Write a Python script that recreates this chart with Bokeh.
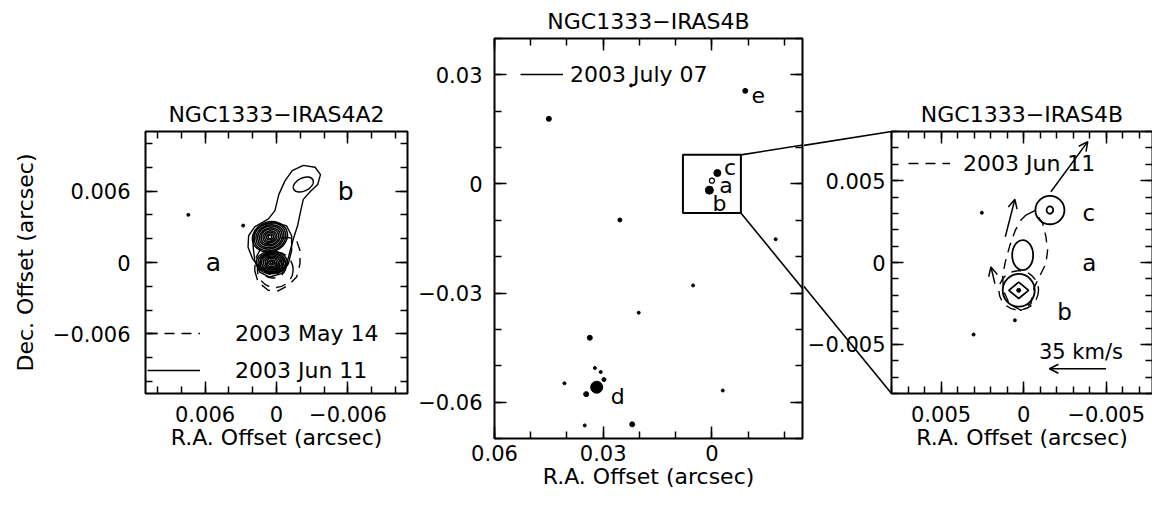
import numpy as np
from bokeh.plotting import figure
from bokeh.layouts import row, column
from bokeh.models import (Range1d, LinearAxis, SingleIntervalTicker, Legend, LegendItem,
                          Arrow, OpenHead, ColumnDataSource)
from bokeh.core.properties import value
from bokeh.embed import file_html
from bokeh.resources import INLINE

FONT = "DejaVu Sans"

# ---------------- Panel 1 : NGC1333-IRAS4A2 ----------------
A2_TITLE = "NGC1333−IRAS4A2"
A2_TICKS = [0.006, 0.0, -0.006]
A2_TICK_LABELS = ["0.006", "0", "−0.006"]
A2_DATES = ["2003 May 14", "2003 Jun 11"]
# outer 2003 Jun 11 contour (arcsec)
A2_JUN_OUTER_X = [0.00239, 0.00234, 0.00183, 0.00070, 0.00014, -0.00020, -0.00070, -0.00132,
                  -0.00225, -0.00324, -0.00369, -0.00346, -0.00282, -0.00225, -0.00200, -0.00177,
                  -0.00141, -0.00110, -0.00080, -0.00020, 0.00060, 0.00140, 0.00200, 0.00239]
A2_JUN_OUTER_Y = [0.00128, 0.00225, 0.00300, 0.00364, 0.00433, 0.00572, 0.00683, 0.00772,
                  0.00816, 0.00800, 0.00738, 0.00655, 0.00594, 0.00530, 0.00419, 0.00308,
                  0.00197, 0.00080, -0.00030, -0.00080, -0.00085, -0.00050, 0.00030, 0.00128]
A2_JUN_SECOND_X = [0.00183, 0.00113, 0.00014, -0.00085, -0.00127, -0.00127, -0.00099, -0.00042,
                   0.00057, 0.00141, 0.00183, 0.00197, 0.00183]
A2_JUN_SECOND_Y = [0.00267, 0.00317, 0.00336, 0.00308, 0.00225, 0.00100, -0.00011, -0.00094,
                   -0.00122, -0.00081, 0.00017, 0.00142, 0.00267]
# nested contour rings: peak A (upper), peak B (lower), and the inner loop of lobe b
A2_PEAK_A = dict(x=0.00055, y=0.00215, angle=0.35,
                 w=[0.0030, 0.0027, 0.0024, 0.0021, 0.0018, 0.0015, 0.0012, 0.0009, 0.0006, 0.0003],
                 h=[0.0025, 0.0023, 0.0020, 0.0018, 0.0015, 0.0013, 0.0010, 0.0008, 0.0005, 0.0003])
A2_PEAK_B = dict(x=0.0004, y=0.0000, angle=0.0,
                 w=[0.0026, 0.0023, 0.0020, 0.0017, 0.0014, 0.0011, 0.0008, 0.0005, 0.0002],
                 h=[0.0019, 0.0017, 0.0015, 0.0013, 0.0011, 0.0009, 0.0007, 0.0004, 0.0002])
A2_LOBE_B = dict(x=-0.00225, y=0.00655, angle=0.45, w=[0.0018], h=[0.0011])
# 2003 May 14 (dashed) contours
A2_MAY_OUTER_X = [0.00183, 0.00155, 0.00070, -0.00014, -0.00099, -0.00169, -0.00197, -0.00197,
                  -0.00169, -0.00099, 0.00014, 0.00127, 0.00177, 0.00183]
A2_MAY_OUTER_Y = [-0.00067, -0.00164, -0.00233, -0.00239, -0.00192, -0.00122, -0.00011, 0.00100,
                  0.00183, 0.00211, 0.00197, 0.00128, 0.00031, -0.00067]
A2_MAY_ELL_X = [0.0001, 0.0003, 0.0003, 0.0003, 0.0003]
A2_MAY_ELL_Y = [-0.0006, -0.0003, -0.0003, -0.0003, -0.0003]
A2_MAY_ELL_W = [0.0030, 0.0022, 0.0016, 0.0011, 0.0007]
A2_MAY_ELL_H = [0.0030, 0.0020, 0.0015, 0.0010, 0.0006]
A2_DOT_X = [0.0074, 0.0028]
A2_DOT_Y = [0.0040, 0.0031]
A2_LABELS = ["a", "b"]
A2_LABEL_X = [0.0053, -0.0058]
A2_LABEL_Y = [0.0, 0.0060]

# ---------------- Panel 2 : NGC1333-IRAS4B wide field ----------------
B_TITLE = "NGC1333−IRAS4B"
B_TICKS = [0.06, 0.03, 0.0, -0.03, -0.06]
B_TICK_LABELS = ["0.06", "0.03", "0", "−0.03", "−0.06"]
B_DATE = "2003 July 07"
B_NOISE_X = [0.0450, 0.0223, 0.0254, -0.0176, 0.0052, 0.0202, 0.0337, 0.0407, 0.0323, 0.0307,
             0.0298, 0.0347, -0.0030, 0.0351, 0.0220]
B_NOISE_Y = [0.0179, 0.0271, -0.0099, -0.0152, -0.0279, -0.0354, -0.0423, -0.0548, -0.0506,
             -0.0517, -0.0538, -0.0578, -0.0568, -0.0664, -0.0661]
B_NOISE_SIZE = [5, 3, 4, 3, 3, 3, 5, 3, 3, 3, 4, 5, 3, 3, 5]
B_SRC_NAMES = ["b", "c", "d", "e"]
B_SRC_X = [0.0007, -0.0015, 0.0318, -0.0092]
B_SRC_Y = [-0.0017, 0.0030, -0.0559, 0.0256]
B_SRC_SIZE = [8, 7, 12, 5]
B_SRC_A_X = [0.0]
B_SRC_A_Y = [0.0009]
B_LABELS = ["a", "b", "c", "d", "e"]
B_LABEL_X = [-0.0039, -0.0021, -0.0050, 0.0260, -0.0128]
B_LABEL_Y = [-0.0005, -0.0053, 0.0046, -0.0584, 0.0244]
ZOOM_BOX = dict(left=0.008, right=-0.008, bottom=-0.008, top=0.008)

# ---------------- Panel 3 : NGC1333-IRAS4B zoom ----------------
Z_TICKS = [0.005, 0.0, -0.005]
Z_TICK_LABELS = ["0.005", "0", "−0.005"]
Z_DATE = "2003 Jun 11"
Z_SOLID_X = [-0.00159, -0.00159, 0.00006, 0.00030]
Z_SOLID_Y = [0.00320, 0.00320, 0.00045, -0.00170]
Z_SOLID_W = [0.00176, 0.00040, 0.00127, 0.00194]
Z_SOLID_H = [0.00173, 0.00045, 0.00184, 0.00200]
Z_DIAMOND_X = [0.0009, 0.0003, -0.0003, 0.0003]
Z_DIAMOND_Y = [-0.0017, -0.0012, -0.0017, -0.0022]
Z_DASH_X = [-0.00014, -0.00065, -0.00115, -0.00135, -0.00145, -0.00135, -0.00105, -0.00065,
            -0.00044, 0.00016, 0.00087, 0.00123, 0.00127, 0.00111, 0.00083, 0.00050, 0.00016,
            -0.00014]
Z_DASH_Y = [0.00290, 0.00316, 0.00239, 0.00157, 0.00075, -0.00006, -0.00067, -0.00149,
            -0.00251, -0.00292, -0.00251, -0.00170, -0.00078, 0.00004, 0.00106, 0.00198,
            0.00259, 0.00290]
Z_DASH_ELL = dict(x=[0.00030], y=[-0.00170], w=[0.0024], h=[0.0024])
Z_VEL_X0 = [-0.00165, 0.00111, 0.00174]
Z_VEL_Y0 = [0.00432, 0.00157, -0.00129]
Z_VEL_X1 = [-0.00388, 0.00053, 0.00198]
Z_VEL_Y1 = [0.00738, 0.00386, -0.00027]
Z_SCALE_X = [-0.00499, -0.00156]
Z_SCALE_Y = [-0.00649, -0.00649]
Z_SCALE_TEXT = "35 km/s"
Z_SCALE_TEXT_XY = (-0.00347, -0.00547)
Z_DOT_X = [0.00253, 0.00053, 0.00303]
Z_DOT_Y = [0.00304, -0.00353, -0.00440]
Z_LABELS = ["c", "a", "b"]
Z_LABEL_X = [-0.00394, -0.00398, -0.00247]
Z_LABEL_Y = [0.00300, -0.00002, -0.00302]

AXIS_LABEL_X = "R.A. Offset (arcsec)"
AXIS_LABEL_Y = "Dec. Offset (arcsec)"

# ---------------- layout geometry (pixels) ----------------
PAGE = 0
G1 = dict(left=145, top=131, fw=262, fh=262, right=5, bottom=70, title_standoff=10)
G2 = dict(left=82, top=38, fw=308, fh=400, right=2, bottom=64, title_standoff=9)
G3 = dict(left=84, top=131, fw=261, fh=262, right=2, bottom=70, title_standoff=10)
R1X, R1Y = (0.011, -0.011), (-0.011, 0.011)
R2X, R2Y = (0.06, -0.025), (-0.07, 0.04)
R3X, R3Y = (0.008, -0.0078), (-0.008, 0.008)

f2_x0 = PAGE + G1["left"] + G1["fw"] + G1["right"] + G2["left"]
f2_y0 = PAGE + G2["top"]
f3_x0 = f2_x0 + G2["fw"] + G2["right"] + G3["left"]
f3_y0 = PAGE + G3["top"]


def to_page(x, y, xr, yr, x0, y0, fw, fh):
    return (x0 + (x - xr[0]) / (xr[1] - xr[0]) * fw,
            y0 + (yr[1] - y) / (yr[1] - yr[0]) * fh)


def from_page(px, py, xr, yr, x0, y0, fw, fh):
    return (xr[0] + (px - x0) / fw * (xr[1] - xr[0]),
            yr[1] - (py - y0) / fh * (yr[1] - yr[0]))


def make_fig(title, xr, yr, g):
    p = figure(title=title, x_range=Range1d(*xr), y_range=Range1d(*yr),
               frame_width=g["fw"], frame_height=g["fh"],
               min_border_left=g["left"], min_border_right=g["right"],
               min_border_top=g["top"], min_border_bottom=g["bottom"],
               toolbar_location=None, tools="", output_backend="svg", align="start")
    p.grid.visible = False
    p.outline_line_color = "black"
    p.outline_line_width = 2
    p.outline_line_alpha = 1
    p.title.text_font = FONT
    p.title.text_font_size = "22px"
    p.title.text_font_style = "normal"
    p.title.text_color = "black"
    p.title.align = "center"
    p.title.standoff = g["title_standoff"]
    p.background_fill_color = "white"
    p.border_fill_color = "white"
    return p


def style_axis(ax, interval, nminor, ticks, labels, show, standoff=12):
    ax.ticker = SingleIntervalTicker(interval=interval, num_minor_ticks=nminor)
    ax.axis_line_color = None
    ax.major_tick_in = 12
    ax.major_tick_out = 0
    ax.minor_tick_in = 7
    ax.minor_tick_out = 0
    ax.major_tick_line_width = 1.5
    ax.minor_tick_line_width = 1.5
    ax.major_tick_line_color = "black"
    ax.minor_tick_line_color = "black"
    if show:
        ax.major_label_overrides = dict(zip(ticks, labels))
        ax.major_label_text_font = FONT
        ax.major_label_text_font_size = "21px"
        ax.major_label_text_color = "black"
        ax.major_label_standoff = standoff
        ax.axis_label_text_font = FONT
        ax.axis_label_text_font_size = "22px"
        ax.axis_label_text_font_style = "normal"
        ax.axis_label_text_color = "black"
        ax.axis_label_standoff = 0
    else:
        ax.major_label_text_font_size = "0px"
        ax.major_label_text_color = None
        ax.major_label_standoff = 0


def frame_axes(p, interval, nminor, ticks, labels, xstand, ystand, xlabel, ylabel):
    style_axis(p.xaxis[0], interval, nminor, ticks, labels, True, xstand)
    style_axis(p.yaxis[0], interval, nminor, ticks, labels, True, ystand)
    p.xaxis[0].axis_label = xlabel
    p.yaxis[0].axis_label = ylabel
    top = LinearAxis()
    style_axis(top, interval, nminor, ticks, labels, False)
    p.add_layout(top, "above")
    right = LinearAxis()
    style_axis(right, interval, nminor, ticks, labels, False)
    p.add_layout(right, "right")


def legend(p, items, loc, glyph_w, standoff):
    lg = Legend(items=items, location=loc, border_line_color=None,
                background_fill_alpha=0, padding=0, margin=0, spacing=11,
                glyph_width=glyph_w, glyph_height=26, label_height=26,
                label_standoff=standoff, label_text_font=FONT,
                label_text_font_size="22px", label_text_color="black")
    p.add_layout(lg)


def rings(p, spec, **kw):
    n = len(spec["w"])
    src = ColumnDataSource(dict(x=[spec["x"]] * n, y=[spec["y"]] * n, w=spec["w"], h=spec["h"]))
    p.ellipse(x="x", y="y", width="w", height="h", angle=spec["angle"], source=src,
              fill_color=None, line_color="black", **kw)


LW = 1.4

# ---------------- figure 1 ----------------
p1 = make_fig(A2_TITLE, R1X, R1Y, G1)
frame_axes(p1, 0.006, 3, A2_TICKS, A2_TICK_LABELS, 12, 15, AXIS_LABEL_X, AXIS_LABEL_Y)
p1.yaxis[0].axis_label_standoff = 12
r_may = p1.multi_line(xs=[A2_MAY_OUTER_X], ys=[A2_MAY_OUTER_Y], line_color="black",
                      line_width=LW, line_dash="10 7")
p1.ellipse(x=A2_MAY_ELL_X, y=A2_MAY_ELL_Y, width=A2_MAY_ELL_W, height=A2_MAY_ELL_H,
           fill_color=None, line_color="black", line_width=LW, line_dash="10 7")
r_jun = p1.multi_line(xs=[A2_JUN_OUTER_X, A2_JUN_SECOND_X], ys=[A2_JUN_OUTER_Y, A2_JUN_SECOND_Y],
                      line_color="black", line_width=LW)
rings(p1, A2_PEAK_A, line_width=1.5)
rings(p1, A2_PEAK_B, line_width=1.5)
rings(p1, A2_LOBE_B, line_width=LW)
p1.scatter(A2_DOT_X, A2_DOT_Y, size=3, color="black")
p1.text(A2_LABEL_X, A2_LABEL_Y, text=A2_LABELS, text_font=value(FONT),
        text_font_size=value("25px"), text_align="center", text_baseline="middle",
        text_color="black")
legend(p1, [LegendItem(label=A2_DATES[0], renderers=[r_may]),
            LegendItem(label=A2_DATES[1], renderers=[r_jun])], (2, 10), 53, 35)

# ---------------- figure 2 ----------------
p2 = make_fig(B_TITLE, R2X, R2Y, G2)
frame_axes(p2, 0.03, 3, B_TICKS, B_TICK_LABELS, 6, 12, AXIS_LABEL_X, None)
p2.scatter(B_NOISE_X, B_NOISE_Y, size=B_NOISE_SIZE, color="black")
p2.scatter(B_SRC_X, B_SRC_Y, size=B_SRC_SIZE, color="black")
p2.scatter(B_SRC_A_X, B_SRC_A_Y, size=5, fill_color=None, line_color="black", line_width=1.2)
p2.text(B_LABEL_X, B_LABEL_Y, text=B_LABELS, text_font=value(FONT),
        text_font_size=value("22px"), text_align="center", text_baseline="middle",
        text_color="black")
p2.quad(left=[ZOOM_BOX["left"]], right=[ZOOM_BOX["right"]], bottom=[ZOOM_BOX["bottom"]],
        top=[ZOOM_BOX["top"]], fill_color=None, line_color="black", line_width=2)
r_jul = p2.line(x=[np.nan], y=[np.nan], line_color="black", line_width=LW)
legend(p2, [LegendItem(label=B_DATE, renderers=[r_jul])], (26, 351), 43, 7)

# connector lines from the zoom box to the right-hand panel
g2args = (R2X, R2Y, f2_x0, f2_y0, G2["fw"], G2["fh"])
g3args = (R3X, R3Y, f3_x0, f3_y0, G3["fw"], G3["fh"])
box_corners = [(ZOOM_BOX["right"], ZOOM_BOX["top"]), (ZOOM_BOX["right"], ZOOM_BOX["bottom"])]
frame_corners = [(R3X[0], R3Y[1]), (R3X[0], R3Y[0])]
for (bx, by), (fx, fy) in zip(box_corners, frame_corners):
    fpx, fpy = to_page(fx, fy, *g3args)
    ex2, ey2 = from_page(fpx, fpy, *g2args)
    p2.segment(x0=[bx], y0=[by], x1=[ex2], y1=[ey2], line_color="black", line_width=1.6)

# ---------------- figure 3 ----------------
p3 = make_fig(B_TITLE, R3X, R3Y, G3)
frame_axes(p3, 0.005, 5, Z_TICKS, Z_TICK_LABELS, 12, 6, AXIS_LABEL_X, None)
for (bx, by), (fx, fy) in zip(box_corners, frame_corners):
    bpx, bpy = to_page(bx, by, *g2args)
    sx3, sy3 = from_page(bpx, bpy, *g3args)
    # overlay level: continues through the left margin up to the frame corner
    p3.segment(x0=[sx3], y0=[sy3], x1=[fx], y1=[fy], line_color="black", line_width=1.6,
               level="overlay")
r_z = p3.multi_line(xs=[Z_DASH_X], ys=[Z_DASH_Y], line_color="black", line_width=LW,
                    line_dash="10 7")
p3.ellipse(x=Z_DASH_ELL["x"], y=Z_DASH_ELL["y"], width=Z_DASH_ELL["w"], height=Z_DASH_ELL["h"],
           fill_color=None, line_color="black", line_width=LW, line_dash="10 7")
p3.ellipse(x=Z_SOLID_X, y=Z_SOLID_Y, width=Z_SOLID_W, height=Z_SOLID_H,
           fill_color=None, line_color="black", line_width=LW + 0.4)
p3.patch(Z_DIAMOND_X, Z_DIAMOND_Y, fill_color=None, line_color="black", line_width=LW + 0.4)
p3.scatter([Z_SOLID_X[3]], [Z_SOLID_Y[3]], size=4, color="black")
p3.scatter(Z_DOT_X, Z_DOT_Y, size=3, color="black")
vel = ColumnDataSource(dict(x0=Z_VEL_X0, y0=Z_VEL_Y0, x1=Z_VEL_X1, y1=Z_VEL_Y1))
p3.add_layout(Arrow(end=OpenHead(size=9, line_width=1.5, line_color="black"),
                    x_start="x0", y_start="y0", x_end="x1", y_end="y1", source=vel,
                    line_color="black", line_width=1.5))
p3.add_layout(Arrow(end=OpenHead(size=9, line_width=1.5, line_color="black"),
                    x_start=Z_SCALE_X[0], y_start=Z_SCALE_Y[0], x_end=Z_SCALE_X[1],
                    y_end=Z_SCALE_Y[1], line_color="black", line_width=1.5))
p3.text([Z_SCALE_TEXT_XY[0]], [Z_SCALE_TEXT_XY[1]], text=[Z_SCALE_TEXT], text_font=value(FONT),
        text_font_size=value("21px"), text_align="center", text_baseline="middle",
        text_color="black")
p3.text(Z_LABEL_X, Z_LABEL_Y, text=Z_LABELS, text_font=value(FONT),
        text_font_size=value("23px"), text_align="center", text_baseline="middle",
        text_color="black")
legend(p3, [LegendItem(label=Z_DATE, renderers=[r_z])], (17, 217), 42, 13)

layout = row(column(p1), column(p2), column(p3))
open("out.html", "w").write(file_html(layout, INLINE))
